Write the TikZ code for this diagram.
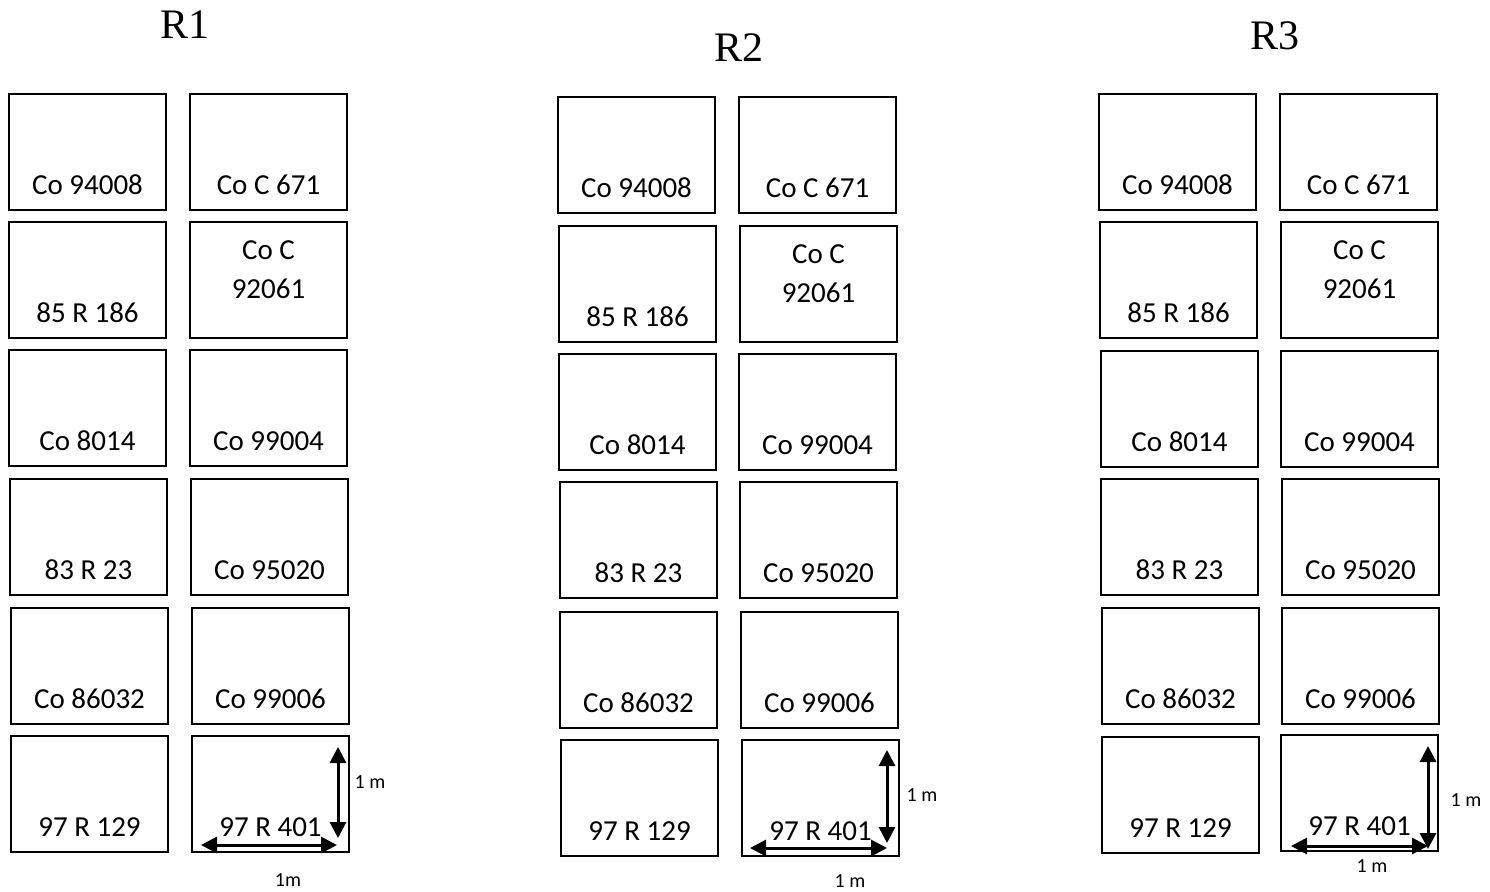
\documentclass[tikz,border=0pt]{standalone}
\usepackage{fontspec}
\setmainfont{Carlito}
\newfontfamily\titlefont{Liberation Serif}
\usetikzlibrary{arrows.meta}
\tikzset{
  plotbox/.style={draw=black, line width=2.2pt, minimum width=157pt, minimum height=116pt, inner sep=0pt},
  lbl/.style={inner sep=0pt, font=\fontsize{29}{35}\selectfont},
  ttl/.style={inner sep=0pt, font=\titlefont\fontsize{42}{50}\selectfont},
  dimlbl/.style={inner sep=0pt, font=\fontsize{20}{24}\selectfont},
  dimarrow/.style={line width=3pt, {Triangle[length=16pt,width=16pt]}-{Triangle[length=16pt,width=16pt]}}
}
\newcommand\pbox[4]{%
  \node[plotbox] (#1) at ({#2+78.5},{#3+58}) {};
  \node[lbl, anchor=base] (#1t) at ([yshift=17pt]#1.south) {#4};
}
\newcommand\pboxtwo[5]{%
  \node[plotbox] (#1) at ({#2+78.5},{#3+58}) {};
  \node[lbl, anchor=base] (#1t) at ([yshift=-39pt]#1.north) {#4};
  \node[lbl, anchor=base] (#1u) at ([yshift=-78pt]#1.north) {#5};
}
\begin{document}
\begin{tikzpicture}[x=1pt, y=-1pt]
\useasboundingbox (0,0) rectangle (1490,891);
% titles
\node[ttl, anchor=base] (t1) at (185,39) {R1};
\node[ttl, anchor=base] (t2) at (739,62) {R2};
\node[ttl, anchor=base] (t3) at (1275,49) {R3};
% ---------- R1 ----------
\pbox{aa}{9}{94}{Co 94008}
\pbox{ab}{190}{94}{Co C 671}
\pbox{ac}{9}{222}{85 R 186}
\pboxtwo{ad}{190}{222}{Co C}{92061}
\pbox{ae}{9}{350}{Co 8014}
\pbox{af}{190}{350}{Co 99004}
\pbox{ag}{10}{479}{83 R 23}
\pbox{ah}{191}{479}{Co 95020}
\pbox{ai}{11}{608}{Co 86032}
\pbox{aj}{192}{608}{Co 99006}
\pbox{ak}{11}{736}{97 R 129}
\pbox{al}{192}{736}{97 R 401}
% ---------- R2 ----------
\pbox{ba}{558}{97}{Co 94008}
\pbox{bb}{739}{97}{Co C 671}
\pbox{bc}{559}{226}{85 R 186}
\pboxtwo{bd}{740}{226}{Co C}{92061}
\pbox{be}{559}{354}{Co 8014}
\pbox{bf}{739}{354}{Co 99004}
\pbox{bg}{560}{482}{83 R 23}
\pbox{bh}{740}{482}{Co 95020}
\pbox{bi}{560}{612}{Co 86032}
\pbox{bj}{741}{612}{Co 99006}
\pbox{bk}{561}{740}{97 R 129}
\pbox{bl}{742}{740}{97 R 401}
% ---------- R3 ----------
\pbox{ca}{1099}{94}{Co 94008}
\pbox{cb}{1280}{94}{Co C 671}
\pbox{cc}{1100}{222}{85 R 186}
\pboxtwo{cd}{1281}{222}{Co C}{92061}
\pbox{ce}{1101}{351}{Co 8014}
\pbox{cf}{1281}{351}{Co 99004}
\pbox{cg}{1101}{479}{83 R 23}
\pbox{ch}{1282}{479}{Co 95020}
\pbox{ci}{1102}{608}{Co 86032}
\pbox{cj}{1282}{608}{Co 99006}
\pbox{ck}{1102}{737}{97 R 129}
\pbox{cl}{1281}{735}{97 R 401}
% ---------- dimension arrows ----------
\coordinate (av1) at (338,747);
\coordinate (av2) at (338,838);
\coordinate (ah1) at (201,845);
\coordinate (ah2) at (337,845);
\draw[dimarrow] (av1) -- (av2);
\draw[dimarrow] (ah1) -- (ah2);
\node[dimlbl] (am1) at (370,782) {1 m};
\node[dimlbl] (am2) at (288,880) {1m};
\coordinate (bv1) at (887,750);
\coordinate (bv2) at (887,843);
\coordinate (bh1) at (750,848);
\coordinate (bh2) at (887,848);
\draw[dimarrow] (bv1) -- (bv2);
\draw[dimarrow] (bh1) -- (bh2);
\node[dimlbl] (bm1) at (922,795) {1 m};
\node[dimlbl] (bm2) at (850,881) {1 m};
\coordinate (cv1) at (1428,746);
\coordinate (cv2) at (1428,849);
\coordinate (ch1) at (1291,846);
\coordinate (ch2) at (1428,846);
\draw[dimarrow] (cv1) -- (cv2);
\draw[dimarrow] (ch1) -- (ch2);
\node[dimlbl] (cm1) at (1466,800) {1 m};
\node[dimlbl] (cm2) at (1372,866) {1 m};
\end{tikzpicture}
\end{document}
